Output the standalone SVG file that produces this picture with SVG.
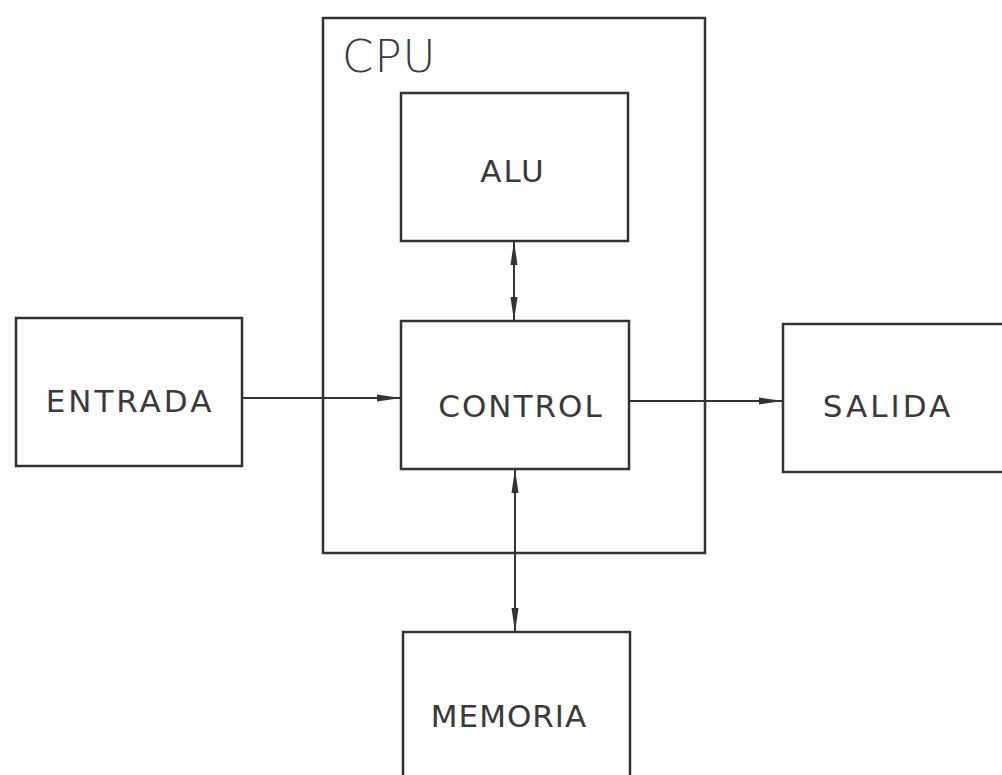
<svg xmlns="http://www.w3.org/2000/svg" width="1002" height="775" viewBox="0 0 1002 775">
<style>
.box{fill:none;stroke:#333;stroke-width:2.5}
.lbl{font-family:"DejaVu Sans",sans-serif;fill:#3a3a3a;text-anchor:middle;font-size:31px;letter-spacing:2px}
.con{stroke:#333;stroke-width:2;fill:none}
</style>
<defs>
<marker id="ah" markerUnits="userSpaceOnUse" markerWidth="26" markerHeight="12" refX="24" refY="5" orient="auto-start-reverse">
<path d="M0,1.5 L24,5 L0,8.5 Z" fill="#333"/>
</marker>
</defs>
<rect width="1002" height="775" fill="#fff"/>
<g id="cpu">
<rect class="box" x="323" y="18" width="382" height="535"/>
<text class="lbl" x="342" y="72" style="text-anchor:start;font-size:45px;font-weight:300;letter-spacing:1px">CPU</text>
</g>
<g id="alu">
<rect class="box" x="401" y="93" width="227" height="148"/>
<text class="lbl" x="513" y="182">ALU</text>
</g>
<g id="control">
<rect class="box" x="401" y="321" width="228" height="148"/>
<text class="lbl" x="521" y="417">CONTROL</text>
</g>
<g id="entrada">
<rect class="box" x="16" y="318" width="226" height="148"/>
<text class="lbl" x="130" y="412" style="letter-spacing:3px">ENTRADA</text>
</g>
<g id="salida">
<rect class="box" x="783" y="324" width="230" height="148"/>
<text class="lbl" x="888" y="417" style="letter-spacing:3px">SALIDA</text>
</g>
<g id="memoria">
<rect class="box" x="403" y="632" width="227" height="160"/>
<text class="lbl" x="509" y="727" style="letter-spacing:1px">MEMORIA</text>
</g>
<g id="connectors">
<line class="con" x1="242" y1="398" x2="401" y2="398" marker-end="url(#ah)"/>
<line class="con" x1="629" y1="401" x2="783" y2="401" marker-end="url(#ah)"/>
<line class="con" x1="514" y1="241" x2="514" y2="321" marker-start="url(#ah)" marker-end="url(#ah)"/>
<line class="con" x1="515" y1="469" x2="515" y2="632" marker-start="url(#ah)" marker-end="url(#ah)"/>
</g>
</svg>
